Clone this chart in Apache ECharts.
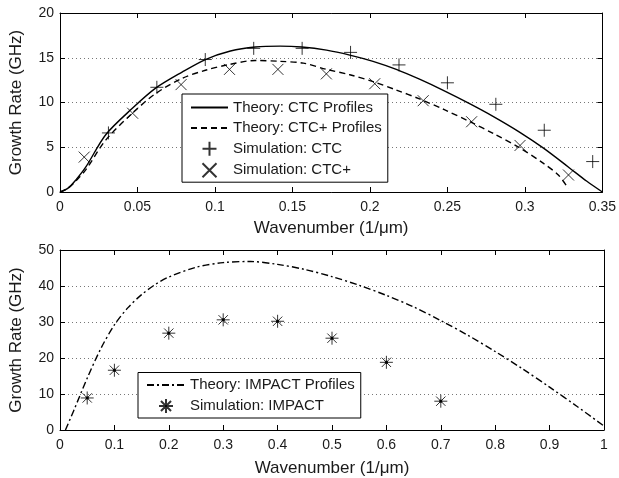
<!DOCTYPE html>
<html>
<head>
<meta charset="utf-8">
<script src="https://cdn.jsdelivr.net/npm/echarts@6/dist/echarts.min.js"></script>
<style>html,body{margin:0;padding:0;background:#fff}#c{width:619px;height:478px}</style>
</head>
<body>
<div id="c"></div>
<script>
// ---- Top panel data ----
const ctcTheoryK = [0, 0.005, 0.01, 0.0167, 0.0295, 0.0467, 0.0617, 0.0788, 0.0938, 0.11, 0.126, 0.142, 0.156, 0.172, 0.187, 0.202, 0.217, 0.232, 0.248, 0.264, 0.28, 0.296, 0.312, 0.328, 0.34, 0.35];
const ctcTheoryG = [0, 0.4, 1.3, 2.8, 6.4, 9.35, 11.6, 13.4, 14.8, 15.75, 16.2, 16.3, 16.2, 15.85, 15.3, 14.6, 13.7, 12.6, 11.3, 9.9, 8.4, 6.75, 4.9, 2.8, 1.2, 0];
const ctcPlusTheoryK = [0, 0.005, 0.01, 0.0167, 0.0295, 0.0467, 0.0617, 0.0788, 0.0938, 0.108, 0.126, 0.142, 0.157, 0.172, 0.187, 0.2026, 0.217, 0.232, 0.248, 0.264, 0.28, 0.296, 0.312, 0.3216, 0.328];
const ctcPlusTheoryG = [0, 0.4, 1.2, 2.5, 5.8, 8.8, 11.0, 12.7, 13.6, 14.2, 14.7, 14.6, 14.4, 13.7, 13.1, 12.3, 11.4, 10.4, 9.2, 7.9, 6.5, 5.0, 3.2, 1.9, 0.4];
const ctcSimK = [0.03125, 0.0625, 0.09375, 0.125, 0.15625, 0.1875, 0.21875, 0.25, 0.28125, 0.3125, 0.34375];
const ctcSimG = [6.6, 11.7, 14.8, 16.05, 16.05, 15.6, 14.2, 12.2, 9.8, 6.9, 3.4];
const ctcPlusSimK = [0.015625, 0.046875, 0.078125, 0.109375, 0.140625, 0.171875, 0.203125, 0.234375, 0.265625, 0.296875, 0.328125];
const ctcPlusSimG = [3.9, 8.8, 12.0, 13.7, 13.7, 13.2, 12.1, 10.2, 7.85, 5.2, 1.9];

// ---- Bottom panel data ----
const impactTheoryK = [0.01, 0.025, 0.05, 0.075, 0.1, 0.125, 0.15, 0.175, 0.2, 0.25, 0.3, 0.35, 0.4, 0.45, 0.5, 0.55, 0.6, 0.65, 0.7, 0.75, 0.8, 0.85, 0.9, 0.95, 1.0];
const impactTheoryG = [0.0, 5.3, 14.4, 22.6, 29.2, 34.0, 37.6, 40.4, 42.5, 45.2, 46.5, 46.8, 46.0, 44.6, 42.6, 40.2, 37.4, 34.2, 30.4, 26.3, 21.8, 17.0, 11.9, 6.6, 1.1];
const impactSimK = [0.05, 0.1, 0.2, 0.3, 0.4, 0.5, 0.6, 0.7];
const impactSimG = [8.9, 16.6, 26.9, 30.6, 30.2, 25.5, 18.8, 8.0];

// ---- Axis settings ----
const topXTicks = {min: 0, max: 0.35, interval: 0.05};
const topYTicks = {min: 0, max: 20, interval: 5};
const botXTicks = {min: 0, max: 1, interval: 0.1};
const botYTicks = {min: 0, max: 50, interval: 10};

const xTitle = 'Wavenumber (1/\u03bcm)';
const yTitle = 'Growth Rate (GHz)';
const names = ['Theory: CTC Profiles', 'Theory: CTC+ Profiles', 'Simulation: CTC', 'Simulation: CTC+', 'Theory: IMPACT Profiles', 'Simulation: IMPACT'];

const FONT = '"Liberation Sans", Arial, Helvetica, sans-serif';
const TXT = '#1a1a1a';
const zip = (a, b) => a.map((v, i) => [v, b[i]]);

const PLUS = 'path://M0,-1L0,1M-1,0L1,0';
const CROSS = 'path://M-1,-1L1,1M-1,1L1,-1';
const STAR = 'path://M0,-1L0,1M-1,0L1,0M-0.72,-0.72L0.72,0.72M-0.72,0.72L0.72,-0.72M-0.16,-0.16L0.16,-0.16L0.16,0.16L-0.16,0.16Z';

function mainX(grid, t, gap) {
  return {
    type: 'value', gridIndex: grid, position: 'bottom', min: t.min, max: t.max, interval: t.interval,
    name: xTitle, nameLocation: 'middle', nameGap: gap,
    nameTextStyle: {fontSize: 17, color: TXT, fontFamily: FONT},
    axisLine: {show: true, onZero: false, lineStyle: {color: '#000', width: 1}},
    axisTick: {show: true, inside: true, length: 5, lineStyle: {color: '#000'}},
    axisLabel: {fontSize: 14, color: TXT, fontFamily: FONT, margin: 8},
    splitLine: {show: false}
  };
}
function mirrorX(grid, t) {
  return {
    type: 'value', gridIndex: grid, position: 'top', min: t.min, max: t.max, interval: t.interval,
    axisLine: {show: true, onZero: false, lineStyle: {color: '#000', width: 1}},
    axisTick: {show: true, inside: true, length: 5, lineStyle: {color: '#000'}},
    axisLabel: {show: false}, splitLine: {show: false}
  };
}
function mainY(grid, t) {
  return {
    type: 'value', gridIndex: grid, position: 'left', min: t.min, max: t.max, interval: t.interval,
    name: yTitle, nameLocation: 'middle', nameGap: 35,
    nameTextStyle: {fontSize: 17, color: TXT, fontFamily: FONT},
    axisLine: {show: true, onZero: false, lineStyle: {color: '#000', width: 1}},
    axisTick: {show: true, inside: true, length: 5, lineStyle: {color: '#000'}},
    axisLabel: {fontSize: 14, color: TXT, fontFamily: FONT, margin: 6},
    splitLine: {show: true, lineStyle: {color: '#777', width: 1, type: [1, 3]}}
  };
}
function mirrorY(grid, t) {
  return {
    type: 'value', gridIndex: grid, position: 'right', min: t.min, max: t.max, interval: t.interval,
    axisLine: {show: true, onZero: false, lineStyle: {color: '#000', width: 1}},
    axisTick: {show: true, inside: true, length: 5, lineStyle: {color: '#000'}},
    axisLabel: {show: false}, splitLine: {show: false}
  };
}

const markerStyle = {color: '#000', borderColor: '#000', borderWidth: 1};
const lineItem = (n) => ({name: n, itemStyle: {opacity: 0}});

const option = {
  animation: false,
  backgroundColor: '#fff',
  textStyle: {fontFamily: FONT},
  grid: [
    {left: 59, top: 13, width: 545, height: 179},
    {left: 59, top: 250, width: 545, height: 181}
  ],
  xAxis: [mainX(0, topXTicks, 28), mirrorX(0, topXTicks), mainX(1, botXTicks, 30), mirrorX(1, botXTicks)],
  yAxis: [mainY(0, topYTicks), mirrorY(0, topYTicks), mainY(1, botYTicks), mirrorY(1, botYTicks)],
  legend: [
    {
      orient: 'vertical', left: 182, top: 94,
      padding: [6, 6, 4, 8], itemWidth: 37, itemHeight: 14, itemGap: 5.4,
      borderColor: '#000', borderWidth: 1, backgroundColor: '#fff',
      textStyle: {fontSize: 15, color: TXT, fontFamily: FONT},
      data: [lineItem(names[0]), lineItem(names[1]), names[2], names[3]]
    },
    {
      orient: 'vertical', left: 138, top: 372.5,
      padding: [5, 6, 4, 8], itemWidth: 38, itemHeight: 14, itemGap: 5.5,
      borderColor: '#000', borderWidth: 1, backgroundColor: '#fff',
      textStyle: {fontSize: 15, color: TXT, fontFamily: FONT},
      data: [lineItem(names[4]), names[5]]
    }
  ],
  series: [
    {
      name: names[0], type: 'line', xAxisIndex: 0, yAxisIndex: 0, smooth: 0.3, symbol: 'none',
      lineStyle: {color: '#000', width: 1.4, type: 'solid'}, itemStyle: {color: '#000'},
      data: zip(ctcTheoryK, ctcTheoryG)
    },
    {
      name: names[1], type: 'line', xAxisIndex: 0, yAxisIndex: 0, smooth: 0.3, symbol: 'none',
      lineStyle: {color: '#000', width: 1.4, type: [6, 4]}, itemStyle: {color: '#000'},
      data: zip(ctcPlusTheoryK, ctcPlusTheoryG)
    },
    {
      name: names[2], type: 'scatter', xAxisIndex: 0, yAxisIndex: 0, symbol: PLUS, symbolSize: 13,
      itemStyle: markerStyle, data: zip(ctcSimK, ctcSimG)
    },
    {
      name: names[3], type: 'scatter', xAxisIndex: 0, yAxisIndex: 0, symbol: CROSS, symbolSize: 11,
      itemStyle: markerStyle, data: zip(ctcPlusSimK, ctcPlusSimG)
    },
    {
      name: names[4], type: 'line', xAxisIndex: 2, yAxisIndex: 2, smooth: 0.3, symbol: 'none',
      lineStyle: {color: '#000', width: 1.4, type: [7, 3, 2, 3]}, itemStyle: {color: '#000'},
      data: zip(impactTheoryK, impactTheoryG)
    },
    {
      name: names[5], type: 'scatter', xAxisIndex: 2, yAxisIndex: 2, symbol: STAR, symbolSize: 13,
      itemStyle: markerStyle, data: zip(impactSimK, impactSimG)
    }
  ]
};

const chart = echarts.init(document.getElementById('c'), null, {renderer: 'canvas'});
chart.setOption(option);
</script>
</body>
</html>
